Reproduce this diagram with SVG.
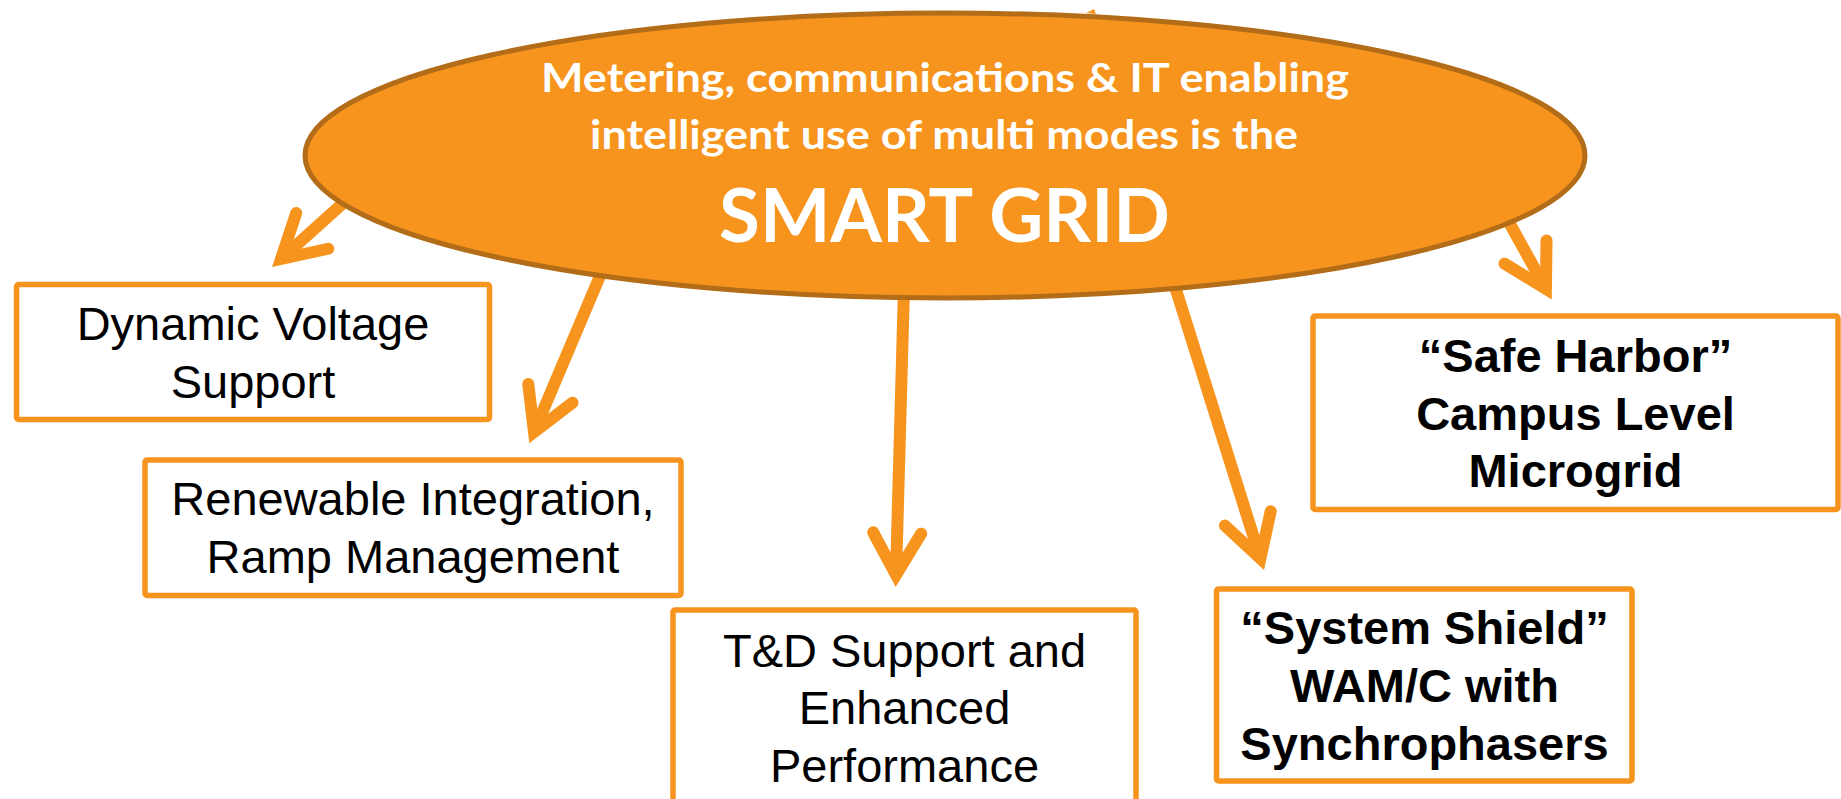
<svg xmlns="http://www.w3.org/2000/svg" width="1841" height="799" viewBox="0 0 1841 799">
<style>
.box{fill:#FFFFFF;stroke:#F7941D;stroke-width:5.5;}
.lbl{font-family:"Liberation Sans",Arial,sans-serif;font-size:47px;fill:#000000;text-anchor:middle;}
.b{font-weight:bold;}
.conn{fill:none;stroke:#F7941D;stroke-width:12;}
.hub{fill:#F7941D;stroke:#B36C17;stroke-width:5;}
.hubt{font-family:Lato,"Open Sans","Noto Sans",sans-serif;font-weight:bold;fill:#FFFFFF;text-anchor:middle;}
</style>
<defs>
<marker id="ah" markerUnits="userSpaceOnUse" viewBox="-60 -40 80 80" markerWidth="80" markerHeight="80" refX="0" refY="0" orient="auto" overflow="visible">
<path d="M-42,-24 L0,0 L-42,24" fill="none" stroke="#F7941D" stroke-width="12" stroke-linecap="round" stroke-linejoin="miter"/>
</marker>
</defs>
<rect width="1841" height="799" fill="#FFFFFF"/>
<g id="connectors">
<line class="conn" x1="361" y1="187" x2="281" y2="259" marker-end="url(#ah)"/>
<line class="conn" x1="608" y1="257" x2="534" y2="432" marker-end="url(#ah)"/>
<line class="conn" x1="904.5" y1="270" x2="896" y2="575" marker-end="url(#ah)"/>
<line class="conn" x1="1169.5" y1="269" x2="1260.4" y2="558.5" marker-end="url(#ah)"/>
<line class="conn" x1="1500" y1="206" x2="1545.9" y2="288.8" marker-end="url(#ah)"/>
<polygon points="1086,13 1094,9 1096,14" fill="#F7941D"/>
</g>
<g id="smart-grid">
<ellipse class="hub" cx="945" cy="155.5" rx="640" ry="142.5"/>
<text class="hubt" x="945" y="92" font-size="40" textLength="808" lengthAdjust="spacingAndGlyphs">Metering, communications &amp; IT enabling</text>
<text class="hubt" x="944" y="149" font-size="40" textLength="708" lengthAdjust="spacingAndGlyphs">intelligent use of multi modes is the</text>
<text class="hubt" x="944.5" y="242" font-size="74" textLength="451" lengthAdjust="spacingAndGlyphs">SMART GRID</text>
</g>
<g id="dynamic-voltage">
<rect class="box" x="16.5" y="284.5" width="473" height="135" rx="2"/>
<text class="lbl" x="253" y="340">Dynamic Voltage</text>
<text class="lbl" x="253" y="398">Support</text>
</g>
<g id="renewable">
<rect class="box" x="145" y="460" width="536" height="135.5" rx="2"/>
<text class="lbl" x="413" y="515">Renewable Integration,</text>
<text class="lbl" x="413" y="573">Ramp Management</text>
</g>
<g id="td-support">
<rect class="box" x="673" y="610" width="463" height="220" rx="2"/>
<text class="lbl" x="904.5" y="667">T&amp;D Support and</text>
<text class="lbl" x="904.5" y="723.5">Enhanced</text>
<text class="lbl" x="904.5" y="781.5">Performance</text>
</g>
<g id="safe-harbor">
<rect class="box" x="1313" y="316" width="525" height="193.5" rx="2"/>
<text class="lbl b" x="1575.5" y="372">“Safe Harbor”</text>
<text class="lbl b" x="1575.5" y="430">Campus Level</text>
<text class="lbl b" x="1575.5" y="487">Microgrid</text>
</g>
<g id="system-shield">
<rect class="box" x="1216.5" y="589" width="415.5" height="192" rx="2"/>
<text class="lbl b" x="1424.5" y="643.5">“System Shield”</text>
<text class="lbl b" x="1424.5" y="701.5">WAM/C with</text>
<text class="lbl b" x="1424.5" y="760">Synchrophasers</text>
</g>
</svg>
